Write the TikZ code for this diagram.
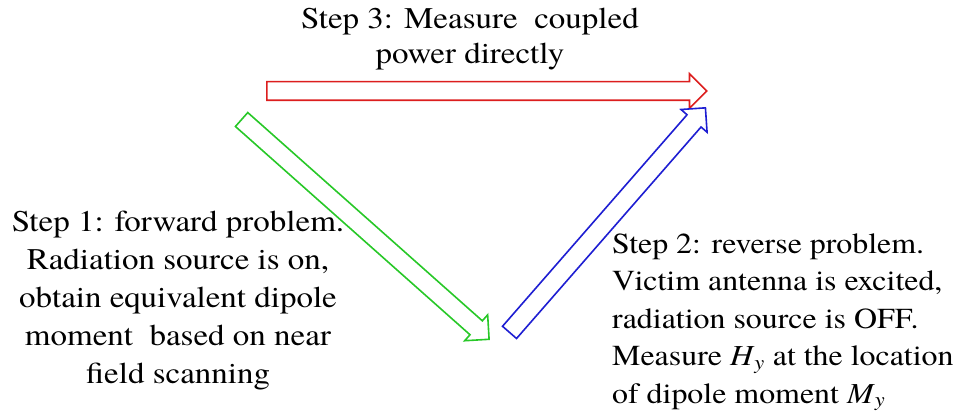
\documentclass[tikz,border=0pt]{standalone}
\usepackage{fontspec}
\setmainfont{texgyretermes}[Extension=.otf, UprightFont=*-regular,
  ItalicFont=*-italic, BoldFont=*-bold, BoldItalicFont=*-bolditalic,
  FakeStretch=1.1]
\usetikzlibrary{shapes.arrows}

\definecolor{stepred}{RGB}{220,30,30}
\definecolor{stepgreen}{RGB}{40,200,40}
\definecolor{stepblue}{RGB}{30,30,210}

\begin{document}
\begin{tikzpicture}[
  x=1pt, y=-1pt,
  blockarr/.style={single arrow, draw, fill=white, line width=1.6pt,
                   inner sep=0pt, inner ysep=8.5pt, single arrow head extend=8pt,
                   anchor=tail},
  redarr/.style={blockarr, draw=stepred},
  greenarr/.style={blockarr, draw=stepgreen},
  bluearr/.style={blockarr, draw=stepblue},
  steptext/.style={inner sep=0pt, font=\fontsize{30}{38}\selectfont},
]
\useasboundingbox (0,0) rectangle (962,414);

% the three steps
\node[redarr, minimum height=440pt] (measure) at (266,91) {};
\node[greenarr, minimum height=331pt, rotate=-41.6] (forward) at (241,119) {};
\node[bluearr, minimum height=298pt, rotate=48.9] (reverse) at (509,333) {};

\node[steptext, align=center, anchor=north, font=\fontsize{30}{35}\selectfont]
  (step3) at (470,8) {Step 3: Measure\ \ coupled\\power directly};
\node[steptext, align=center, anchor=north] (step1) at (178,211)
  {Step 1: forward problem.\\Radiation source is on,\\obtain equivalent dipole\\moment\ \ based on near\\field scanning};
\node[steptext, align=left, anchor=north west, font=\fontsize{29}{37.5}\selectfont]
  (step2) at (612,233)
  {Step 2: reverse problem.\\Victim\ antenna\ is excited,\\radiation\ source is OFF.\\Measure \textit{H}\textsubscript{\textit{y}} at the location\\of dipole moment\ \textit{M}\textsubscript{\textit{y}}};
\end{tikzpicture}
\end{document}
